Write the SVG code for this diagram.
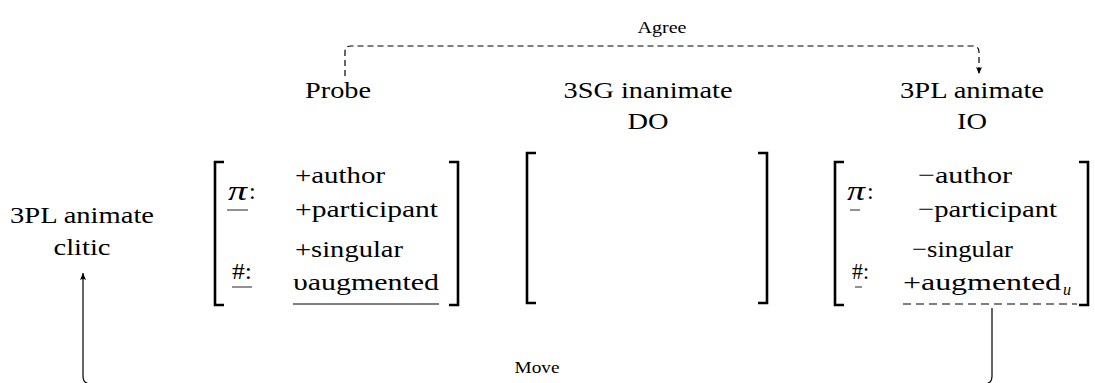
<svg xmlns="http://www.w3.org/2000/svg" width="1095" height="383" viewBox="0 0 1095 383">
<style>
.t{font-family:"Liberation Serif","Times New Roman",serif;font-size:24px;fill:#000}
.sm{font-family:"Liberation Serif","Times New Roman",serif;font-size:17px;fill:#000}
.m{font-family:"Liberation Serif","Times New Roman",serif;font-size:28px;font-style:italic;fill:#000}
.sub{font-family:"Liberation Serif","Times New Roman",serif;font-size:16px;font-style:italic;fill:#000}
.br{fill:none;stroke:#000;stroke-width:2.6}
.ul{stroke:#555;stroke-width:1.3}
.dl{stroke:#555;stroke-width:1.3;stroke-dasharray:8 5}
.con{fill:none;stroke:#000;stroke-width:1.2}
.dash{stroke-dasharray:6 4}
</style>
<defs>
<marker id="ah" markerWidth="8" markerHeight="8" refX="7" refY="4" orient="auto" markerUnits="userSpaceOnUse">
<path d="M0,1 L7,4 L0,7 Q2,4 0,1 Z" fill="#000"/>
</marker>
</defs>

<g id="connectors">
<path class="con dash" d="M345 76 V52 Q345 46 351 46 H973 Q979 46 979 52 V74" marker-end="url(#ah)"/>
<path class="con" d="M992 308 V376 Q992 384 984 384 H91 Q83 384 83 376 V273" marker-end="url(#ah)"/>
<text class="sm" x="662" y="33" text-anchor="middle" textLength="49" lengthAdjust="spacingAndGlyphs">Agree</text>
<text class="sm" x="537" y="373" text-anchor="middle" textLength="45" lengthAdjust="spacingAndGlyphs">Move</text>
</g>

<g id="clitic">
<text class="t" x="82" y="223" text-anchor="middle" textLength="144" lengthAdjust="spacingAndGlyphs">3PL animate</text>
<text class="t" x="82" y="255" text-anchor="middle" textLength="57" lengthAdjust="spacingAndGlyphs">clitic</text>
</g>

<g id="probe">
<text class="t" x="338" y="98" text-anchor="middle" textLength="66" lengthAdjust="spacingAndGlyphs">Probe</text>
<path class="br" d="M224 162 H215 V305 H224"/>
<path class="br" d="M449 162 H458 V305 H449"/>
<text class="m" x="228" y="200" textLength="19" lengthAdjust="spacingAndGlyphs">π</text>
<text class="t" x="249" y="199">:</text>
<line class="ul" x1="227" y1="210" x2="248" y2="210"/>
<text class="t" x="232" y="279" textLength="20" lengthAdjust="spacingAndGlyphs">#:</text>
<line class="ul" x1="232" y1="287" x2="252" y2="287"/>
<text class="t" x="295" y="183" textLength="90" lengthAdjust="spacingAndGlyphs">+author</text>
<text class="t" x="295" y="217" textLength="143" lengthAdjust="spacingAndGlyphs">+participant</text>
<text class="t" x="295" y="257" textLength="108" lengthAdjust="spacingAndGlyphs">+singular</text>
<text class="t" x="293" y="290" textLength="146" lengthAdjust="spacingAndGlyphs">υaugmented</text>
<line class="ul" x1="293" y1="304" x2="439" y2="304"/>
</g>

<g id="do">
<text class="t" x="648" y="98" text-anchor="middle" textLength="169" lengthAdjust="spacingAndGlyphs">3SG inanimate</text>
<text class="t" x="648" y="129" text-anchor="middle" textLength="41" lengthAdjust="spacingAndGlyphs">DO</text>
<path class="br" d="M536 153 H527 V303 H536"/>
<path class="br" d="M758 153 H767 V303 H758"/>
</g>

<g id="io">
<text class="t" x="972" y="98" text-anchor="middle" textLength="144" lengthAdjust="spacingAndGlyphs">3PL animate</text>
<text class="t" x="972" y="129" text-anchor="middle" textLength="30" lengthAdjust="spacingAndGlyphs">IO</text>
<path class="br" d="M844 162 H835 V305 H844"/>
<path class="br" d="M1079 162 H1088 V305 H1079"/>
<text class="m" x="847" y="200" textLength="18" lengthAdjust="spacingAndGlyphs">π</text>
<text class="t" x="867" y="199">:</text>
<line class="ul" x1="850" y1="210" x2="860" y2="210"/>
<text class="t" x="852" y="279" textLength="17" lengthAdjust="spacingAndGlyphs">#:</text>
<line class="ul" x1="855" y1="287" x2="862" y2="287"/>
<text class="t" x="918" y="183" textLength="94" lengthAdjust="spacingAndGlyphs">−author</text>
<text class="t" x="918" y="217" textLength="139" lengthAdjust="spacingAndGlyphs">−participant</text>
<text class="t" x="912" y="257" textLength="101" lengthAdjust="spacingAndGlyphs">−singular</text>
<text class="t" x="903" y="290" textLength="158" lengthAdjust="spacingAndGlyphs">+augmented</text>
<text class="sub" x="1063" y="295">u</text>
<line class="dl" x1="903" y1="304" x2="1077" y2="304"/>
</g>
</svg>
